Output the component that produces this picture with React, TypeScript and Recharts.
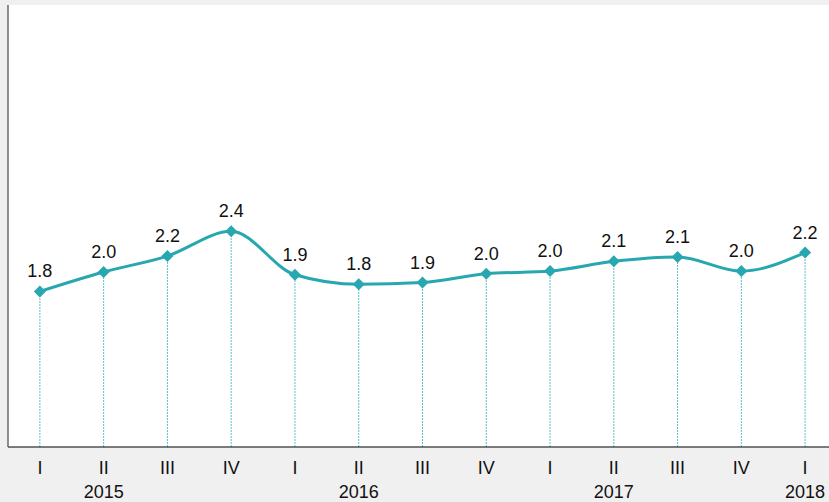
import React from "react";
import {
  LineChart,
  Line,
  XAxis,
  YAxis,
  CartesianGrid,
  ReferenceLine,
  LabelList,
} from "recharts";

const quarters = ["I", "II", "III", "IV", "I", "II", "III", "IV", "I", "II", "III", "IV", "I"];
const years = ["", "2015", "", "", "", "2016", "", "", "", "2017", "", "", "2018"];
const values = [1.76, 1.98, 2.16, 2.44, 1.948, 1.84, 1.86, 1.96, 1.99, 2.1, 2.149, 1.99, 2.2];

const data = quarters.map((q, i) => ({ key: `${i}`, q, year: years[i], v: values[i] }));

const TEAL = "#27a7af";
const FONT = "'Liberation Sans', Arial, sans-serif";

const Diamond = (props: any) => {
  const { cx, cy } = props;
  if (cx == null || cy == null) return null;
  const r = 6;
  return (
    <path
      d={`M${cx},${cy - r} L${cx + r},${cy} L${cx},${cy + r} L${cx - r},${cy} Z`}
      fill={TEAL}
      stroke="none"
    />
  );
};

const Tick = (props: any) => {
  const { x, y, index } = props;
  const d = data[index];
  if (!d) return null;
  return (
    <g>
      <text x={x} y={y + 19} textAnchor="middle" fontSize={18} fill="#111" fontFamily={FONT}>
        {d.q}
      </text>
      {d.year ? (
        <text x={x} y={y + 43} textAnchor="middle" fontSize={18} fill="#111" fontFamily={FONT}>
          {d.year}
        </text>
      ) : null}
    </g>
  );
};

export default function App() {
  return (
    <div
      style={{
        position: "absolute",
        left: 0,
        top: 0,
        width: 829,
        height: 502,
        background: "#f0f0f0",
        overflow: "hidden",
      }}
    >
      <LineChart
        width={837}
        height={502}
        data={data}
        margin={{ top: 5, right: 0, bottom: 0, left: 7 }}
      >
        <CartesianGrid fill="#ffffff" horizontal={false} vertical={false} stroke="none" />
        <XAxis
          dataKey="key"
          scale="band"
          axisLine={{ stroke: "#000", strokeWidth: 1.2 }}
          tickLine={false}
          tick={<Tick />}
          interval={0}
          height={55}
        />
        <XAxis
          xAxisId="top"
          orientation="top"
          dataKey="key"
          scale="band"
          height={0}
          tick={false}
          tickLine={false}
          axisLine={{ stroke: "#707070", strokeWidth: 2 }}
        />
        <YAxis
          domain={[0, 5]}
          width={1}
          tick={false}
          tickLine={false}
          axisLine={{ stroke: "#6a6a6a", strokeWidth: 1.5 }}
        />
        {data.map((d) => (
          <ReferenceLine
            key={d.key}
            segment={[
              { x: d.key, y: 0 },
              { x: d.key, y: d.v },
            ]}
            stroke="#5cbfc6"
            strokeWidth={1}
            strokeDasharray="2 1"
          />
        ))}
        <Line
          type="monotone"
          dataKey="v"
          stroke={TEAL}
          strokeWidth={3}
          dot={<Diamond />}
          activeDot={false}
          isAnimationActive={false}
        >
          <LabelList
            dataKey="v"
            position="top"
            offset={14}
            formatter={(v: any) => Number(v).toFixed(1)}
            style={{ fontSize: 18, fill: "#111", fontFamily: FONT }}
          />
        </Line>
      </LineChart>
    </div>
  );
}
